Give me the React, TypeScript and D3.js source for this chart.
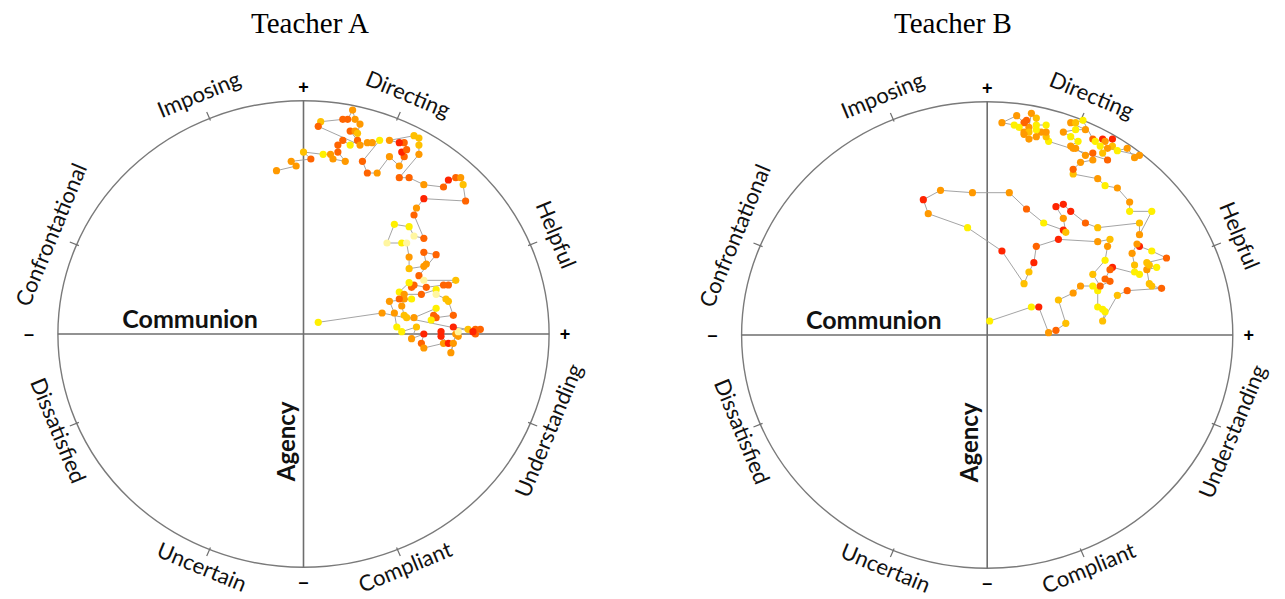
import React from 'react';
import * as d3 from 'd3';

// communion, agency, intensity level (0 = pale yellow ... 5 = red)
const teacherA: [number, number, number][] = [
  [-0.11, 0.70, 3], [-0.03, 0.72, 3], [-0.05, 0.74, 3], [0.03, 0.75, 4], [0.00, 0.78, 2], [0.08, 0.77, 1],
  [0.11, 0.77, 3], [0.12, 0.75, 3], [0.17, 0.74, 3], [0.14, 0.78, 4], [0.14, 0.81, 4], [0.16, 0.83, 4],
  [0.19, 0.81, 1], [0.22, 0.83, 4], [0.19, 0.87, 4], [0.21, 0.87, 3], [0.22, 0.86, 2], [0.23, 0.90, 3],
  [0.21, 0.92, 3], [0.20, 0.96, 3], [0.18, 0.92, 4], [0.16, 0.92, 4], [0.07, 0.91, 2], [0.06, 0.89, 4],
  [0.23, 0.81, 3], [0.26, 0.82, 3], [0.28, 0.82, 3], [0.31, 0.83, 1], [0.24, 0.74, 4], [0.26, 0.69, 4],
  [0.30, 0.69, 3], [0.35, 0.76, 3], [0.39, 0.72, 3], [0.41, 0.76, 4], [0.40, 0.78, 5], [0.42, 0.79, 4],
  [0.41, 0.82, 4], [0.39, 0.82, 5], [0.35, 0.83, 3], [0.45, 0.85, 2], [0.47, 0.84, 2], [0.47, 0.81, 2],
  [0.47, 0.77, 3], [0.39, 0.67, 4], [0.43, 0.67, 4], [0.49, 0.64, 3], [0.57, 0.63, 4], [0.59, 0.66, 5],
  [0.62, 0.67, 4], [0.64, 0.67, 3], [0.65, 0.64, 2], [0.66, 0.57, 4], [0.49, 0.58, 5], [0.46, 0.54, 3],
  [0.45, 0.51, 4], [0.49, 0.41, 4], [0.45, 0.42, 0], [0.43, 0.46, 1], [0.37, 0.47, 1], [0.34, 0.39, 0],
  [0.40, 0.39, 1], [0.42, 0.39, 0], [0.43, 0.33, 3], [0.43, 0.28, 2], [0.49, 0.29, 3], [0.50, 0.30, 3],
  [0.49, 0.35, 4], [0.54, 0.34, 4], [0.47, 0.25, 4], [0.49, 0.23, 0], [0.62, 0.23, 2], [0.59, 0.21, 4],
  [0.57, 0.21, 4], [0.50, 0.20, 4], [0.45, 0.21, 4], [0.44, 0.20, 4], [0.43, 0.22, 1], [0.39, 0.18, 1],
  [0.41, 0.17, 3], [0.48, 0.17, 4], [0.54, 0.19, 1], [0.54, 0.17, 0], [0.58, 0.15, 2], [0.59, 0.14, 2],
  [0.61, 0.08, 4], [0.54, 0.07, 4], [0.53, 0.08, 4], [0.52, 0.06, 1], [0.54, 0.11, 1], [0.45, 0.07, 3],
  [0.42, 0.07, 2], [0.41, 0.08, 2], [0.40, 0.12, 3], [0.41, 0.15, 3], [0.39, 0.15, 4], [0.44, 0.15, 1],
  [0.35, 0.14, 3], [0.37, 0.09, 3], [0.38, 0.03, 1], [0.40, 0.01, 1], [0.46, 0.03, 2], [0.44, -0.02, 3],
  [0.49, 0.00, 5], [0.48, -0.04, 4], [0.49, -0.06, 3], [0.57, -0.04, 3], [0.56, 0.01, 5], [0.56, -0.01, 5],
  [0.59, -0.04, 5], [0.61, -0.04, 3], [0.60, -0.08, 3], [0.62, 0.00, 3], [0.63, -0.01, 3], [0.63, 0.01, 0],
  [0.61, 0.03, 5], [0.67, 0.02, 2], [0.70, 0.02, 4], [0.72, 0.02, 4], [0.70, 0.00, 4], [0.69, 0.01, 5],
  [0.32, 0.09, 3], [0.06, 0.05, 1],
];

const teacherB: [number, number, number][] = [
  [0.01, 0.06, 1], [0.18, 0.12, 1], [0.21, 0.12, 5], [0.25, 0.01, 3], [0.28, 0.02, 4], [0.32, 0.05, 2],
  [0.29, 0.15, 2], [0.35, 0.18, 3], [0.38, 0.21, 3], [0.43, 0.21, 1], [0.45, 0.19, 1], [0.45, 0.12, 1],
  [0.47, 0.11, 1], [0.48, 0.10, 1], [0.47, 0.06, 2], [0.53, 0.17, 2], [0.57, 0.19, 4], [0.71, 0.20, 4],
  [0.67, 0.21, 2], [0.66, 0.22, 2], [0.65, 0.28, 3], [0.69, 0.29, 1], [0.66, 0.30, 2], [0.65, 0.31, 2],
  [0.73, 0.33, 4], [0.67, 0.36, 1], [0.62, 0.38, 5], [0.61, 0.39, 3], [0.59, 0.35, 3], [0.60, 0.30, 2],
  [0.60, 0.27, 1], [0.62, 0.26, 1], [0.51, 0.29, 5], [0.50, 0.28, 4], [0.48, 0.24, 4], [0.50, 0.23, 4],
  [0.46, 0.21, 4], [0.43, 0.26, 2], [0.48, 0.32, 1], [0.49, 0.38, 3], [0.50, 0.41, 2], [0.45, 0.40, 3],
  [0.29, 0.41, 5], [0.20, 0.38, 4], [0.19, 0.31, 5], [0.17, 0.27, 2], [0.15, 0.22, 2], [0.06, 0.36, 5],
  [-0.08, 0.46, 1], [-0.24, 0.52, 3], [-0.26, 0.58, 5], [-0.19, 0.62, 3], [-0.06, 0.61, 3], [0.09, 0.61, 3],
  [0.16, 0.54, 4], [0.23, 0.48, 1], [0.31, 0.45, 5], [0.32, 0.44, 2], [0.31, 0.50, 3], [0.28, 0.55, 5],
  [0.31, 0.56, 5], [0.34, 0.53, 5], [0.40, 0.48, 4], [0.45, 0.46, 2], [0.62, 0.48, 2], [0.62, 0.43, 3],
  [0.67, 0.53, 1], [0.58, 0.53, 1], [0.58, 0.57, 3], [0.53, 0.63, 3], [0.48, 0.64, 1], [0.45, 0.67, 3],
  [0.35, 0.69, 2], [0.35, 0.71, 4], [0.38, 0.74, 3], [0.43, 0.75, 3], [0.43, 0.78, 4], [0.40, 0.77, 3],
  [0.36, 0.80, 3], [0.35, 0.80, 3], [0.34, 0.81, 3], [0.37, 0.83, 1], [0.34, 0.85, 1], [0.31, 0.87, 3],
  [0.36, 0.88, 1], [0.40, 0.88, 3], [0.34, 0.91, 3], [0.36, 0.91, 2], [0.39, 0.92, 1], [0.43, 0.84, 4],
  [0.44, 0.83, 1], [0.47, 0.84, 5], [0.48, 0.83, 3], [0.51, 0.84, 5], [0.51, 0.81, 2], [0.53, 0.79, 1],
  [0.57, 0.80, 3], [0.60, 0.76, 3], [0.62, 0.77, 3], [0.49, 0.80, 3], [0.46, 0.81, 1], [0.47, 0.78, 2],
  [0.49, 0.75, 4], [0.25, 0.83, 1], [0.24, 0.85, 2], [0.24, 0.87, 3], [0.24, 0.90, 1], [0.20, 0.90, 1],
  [0.20, 0.93, 2], [0.18, 0.95, 3], [0.17, 0.89, 3], [0.16, 0.92, 4], [0.15, 0.91, 4], [0.12, 0.94, 3],
  [0.06, 0.91, 3], [0.11, 0.90, 1], [0.13, 0.89, 1], [0.15, 0.87, 3], [0.17, 0.87, 2], [0.15, 0.86, 3],
  [0.17, 0.84, 3], [0.20, 0.85, 3], [0.22, 0.87, 3], [0.20, 0.88, 1],
];

const octants = ['Helpful', 'Directing', 'Imposing', 'Confrontational', 'Dissatisfied', 'Uncertain', 'Compliant', 'Understanding'];
const levelColors = ['#fff6a0', '#fff000', '#ffc000', '#ff9900', '#ff6400', '#ff2400'];

const color = d3.scaleOrdinal<number, string>().domain(d3.range(6)).range(levelColors);

const RX = 245.6;
const RY = 233.3;
const labelFont = 'Lato, "Open Sans", sans-serif';

type PanelProps = { title: string; cx: number; cy: number; titleX: number; data: [number, number, number][] };

const Panel = ({ title, cx, cy, titleX, data }: PanelProps) => {
  const x = d3.scaleLinear().domain([-1, 1]).range([cx - RX, cx + RX]);
  const y = d3.scaleLinear().domain([-1, 1]).range([cy + RY, cy - RY]);
  const line = d3.line<[number, number, number]>().x(d => x(d[0])).y(d => y(d[1]));

  return (
    <g>
      <text x={titleX} y={33} textAnchor="middle" fontFamily='"Liberation Serif", "Times New Roman", serif' fontSize={29} fill="#000">{title}</text>
      <ellipse cx={x(0)} cy={y(0)} rx={RX} ry={RY} fill="none" stroke="#7a7a7a" strokeWidth={1.4} />
      <line x1={x(-1)} x2={x(1)} y1={y(0)} y2={y(0)} stroke="#6e6e6e" strokeWidth={1.6} />
      <line x1={x(0)} x2={x(0)} y1={y(1)} y2={y(-1)} stroke="#6e6e6e" strokeWidth={1.6} />
      {octants.map((name, i) => {
        const a = ((22.5 + 45 * i) * Math.PI) / 180;
        const deg = 22.5 + 45 * i;
        const top = Math.sin(a) > 0;
        const rot = top ? 90 - deg : -90 - deg;
        const k = top ? 1.115 : 1.078;
        const lx = x(k * Math.cos(a));
        const ly = y(k * Math.sin(a));
        return (
          <g key={name}>
            <line x1={x(0.99 * Math.cos(a))} y1={y(0.99 * Math.sin(a))} x2={x(1.03 * Math.cos(a))} y2={y(1.03 * Math.sin(a))} stroke="#6e6e6e" strokeWidth={1.2} />
            <text x={lx} y={ly} transform={`rotate(${rot},${lx},${ly})`} textAnchor="middle" dominantBaseline="central" fontFamily={labelFont} fontSize={22} fill="#111">{name}</text>
          </g>
        );
      })}
      <text x={x(0)} y={y(1.06)} textAnchor="middle" dominantBaseline="central" fontFamily="Arial, sans-serif" fontWeight="bold" fontSize={18}>+</text>
      <text x={x(1.065)} y={y(0)} textAnchor="middle" dominantBaseline="central" fontFamily="Arial, sans-serif" fontWeight="bold" fontSize={18}>+</text>
      <text x={x(-1.118)} y={y(0)} textAnchor="middle" dominantBaseline="central" fontFamily="Arial, sans-serif" fontWeight="bold" fontSize={18}>–</text>
      <text x={x(0)} y={y(-1.063)} textAnchor="middle" dominantBaseline="central" fontFamily="Arial, sans-serif" fontWeight="bold" fontSize={18}>–</text>
      <text x={x(-0.462)} y={y(0.069)} textAnchor="middle" dominantBaseline="central" fontFamily={labelFont} fontWeight="bold" fontSize={25} fill="#111">Communion</text>
      <text x={x(-0.075)} y={y(-0.46)} transform={`rotate(-90,${x(-0.075)},${y(-0.46)})`} textAnchor="middle" dominantBaseline="central" fontFamily={labelFont} fontWeight="bold" fontSize={24} fill="#111">Agency</text>
      <path d={line(data) ?? ''} fill="none" stroke="#9a9a9a" strokeWidth={0.9} />
      {data.map((d, i) => (
        <circle key={i} cx={x(d[0])} cy={y(d[1])} r={3.6} fill={color(d[2])} />
      ))}
    </g>
  );
};

export default function App() {
  return (
    <svg width={1285} height={599} style={{ position: 'absolute', left: 0, top: 0, background: '#fff' }}>
      <rect width={1285} height={599} fill="#fff" />
      <Panel title="Teacher A" cx={303.5} cy={334} titleX={310} data={teacherA} />
      <Panel title="Teacher B" cx={987.2} cy={335} titleX={953} data={teacherB} />
    </svg>
  );
}
